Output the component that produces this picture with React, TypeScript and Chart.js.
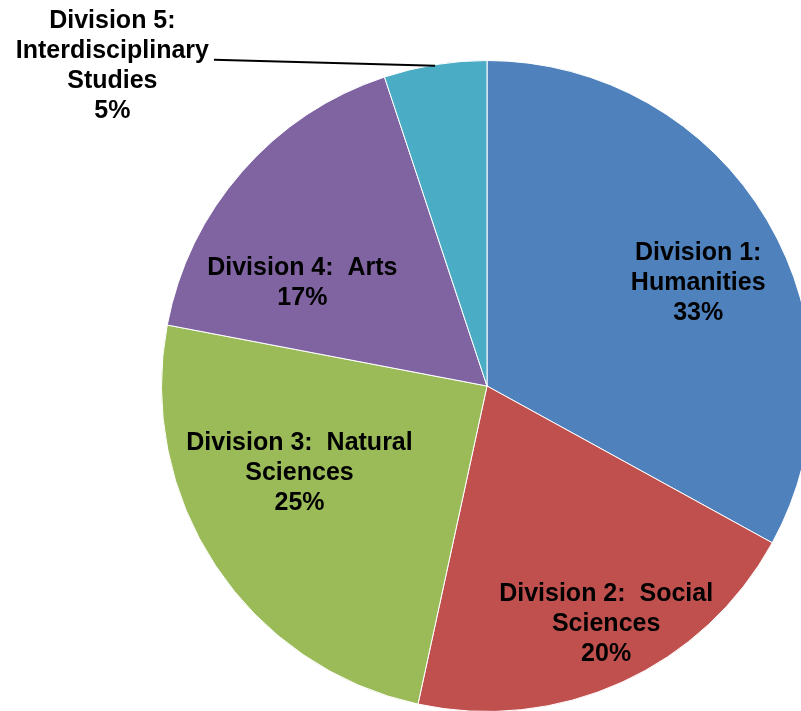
import React, { useEffect, useRef } from "react";
import { Chart, registerables } from "chart.js";

Chart.register(...registerables);

const categories = [
  "Division 1:\nHumanities",
  "Division 2:  Social\nSciences",
  "Division 3:  Natural\nSciences",
  "Division 4:  Arts",
  "Division 5:\nInterdisciplinary\nStudies",
];
const values = [33.0, 20.4, 24.6, 16.9, 5.1];
const colors = ["#4F81BD", "#C0504D", "#9BBB59", "#8064A2", "#4BACC6"];

// label placement: fraction of radius and angular tweak (degrees)
const labelRadius = [0.722, 0.818, 0.635, 0.65, 1.514];
const labelAngleShift = [4.6, -2.1, 8.6, -12.0, -40.3];
const leaderLine = [false, false, false, false, true];

const FONT = 'bold 25px "Liberation Sans", Arial, sans-serif';
const LINE_H = 30;

const labelPlugin = {
  id: "sliceLabels",
  afterDatasetsDraw(chart: any) {
    const ctx = chart.ctx;
    const meta = chart.getDatasetMeta(0);
    const data = chart.data.datasets[0].data as number[];
    const total = data.reduce((a: number, b: number) => a + b, 0);
    ctx.save();
    ctx.font = FONT;
    ctx.fillStyle = "#000";
    ctx.textAlign = "center";
    ctx.textBaseline = "middle";
    meta.data.forEach((arc: any, i: number) => {
      const p = arc.getProps(["x", "y", "startAngle", "endAngle", "outerRadius"], true);
      const mid = (p.startAngle + p.endAngle) / 2;
      const a = mid + (labelAngleShift[i] * Math.PI) / 180;
      const r = p.outerRadius * labelRadius[i];
      const cx = p.x + Math.cos(a) * r;
      const cy = p.y + Math.sin(a) * r;
      const lines = String(chart.data.labels[i]).split("\n");
      lines.push(Math.round((data[i] / total) * 100) + "%");
      const h = lines.length * LINE_H;
      const top = cy - h / 2 + LINE_H / 2;
      let maxW = 0;
      lines.forEach((ln: string, k: number) => {
        ctx.fillText(ln, cx, top + k * LINE_H);
        maxW = Math.max(maxW, ctx.measureText(ln).width);
      });
      if (leaderLine[i]) {
        const ex = p.x + Math.cos(mid) * p.outerRadius;
        const ey = p.y + Math.sin(mid) * p.outerRadius;
        ctx.beginPath();
        ctx.strokeStyle = "#000";
        ctx.lineWidth = 2;
        ctx.moveTo(cx + maxW / 2 + 5, cy - 6);
        ctx.lineTo(ex, ey + 1);
        ctx.stroke();
      }
    });
    ctx.restore();
  },
};

export default function App() {
  const ref = useRef<HTMLCanvasElement>(null);
  useEffect(() => {
    const chart = new Chart(ref.current!, {
      type: "pie",
      data: {
        labels: categories,
        datasets: [
          {
            data: values,
            backgroundColor: colors,
            borderColor: "#ffffff",
            borderWidth: 1,
          },
        ],
      },
      options: {
        responsive: false,
        animation: false,
        layout: { padding: 60 },
        plugins: {
          legend: { display: false },
          tooltip: { enabled: false },
        },
      },
      plugins: [labelPlugin],
    });
    return () => chart.destroy();
  }, []);
  return (
    <div
      style={{
        position: "fixed",
        left: 0,
        top: 0,
        width: 801,
        height: 711,
        overflow: "hidden",
        background: "#fff",
      }}
    >
      <canvas ref={ref} width={974} height={772} style={{ width: 974, height: 772, display: "block" }} />
    </div>
  );
}
